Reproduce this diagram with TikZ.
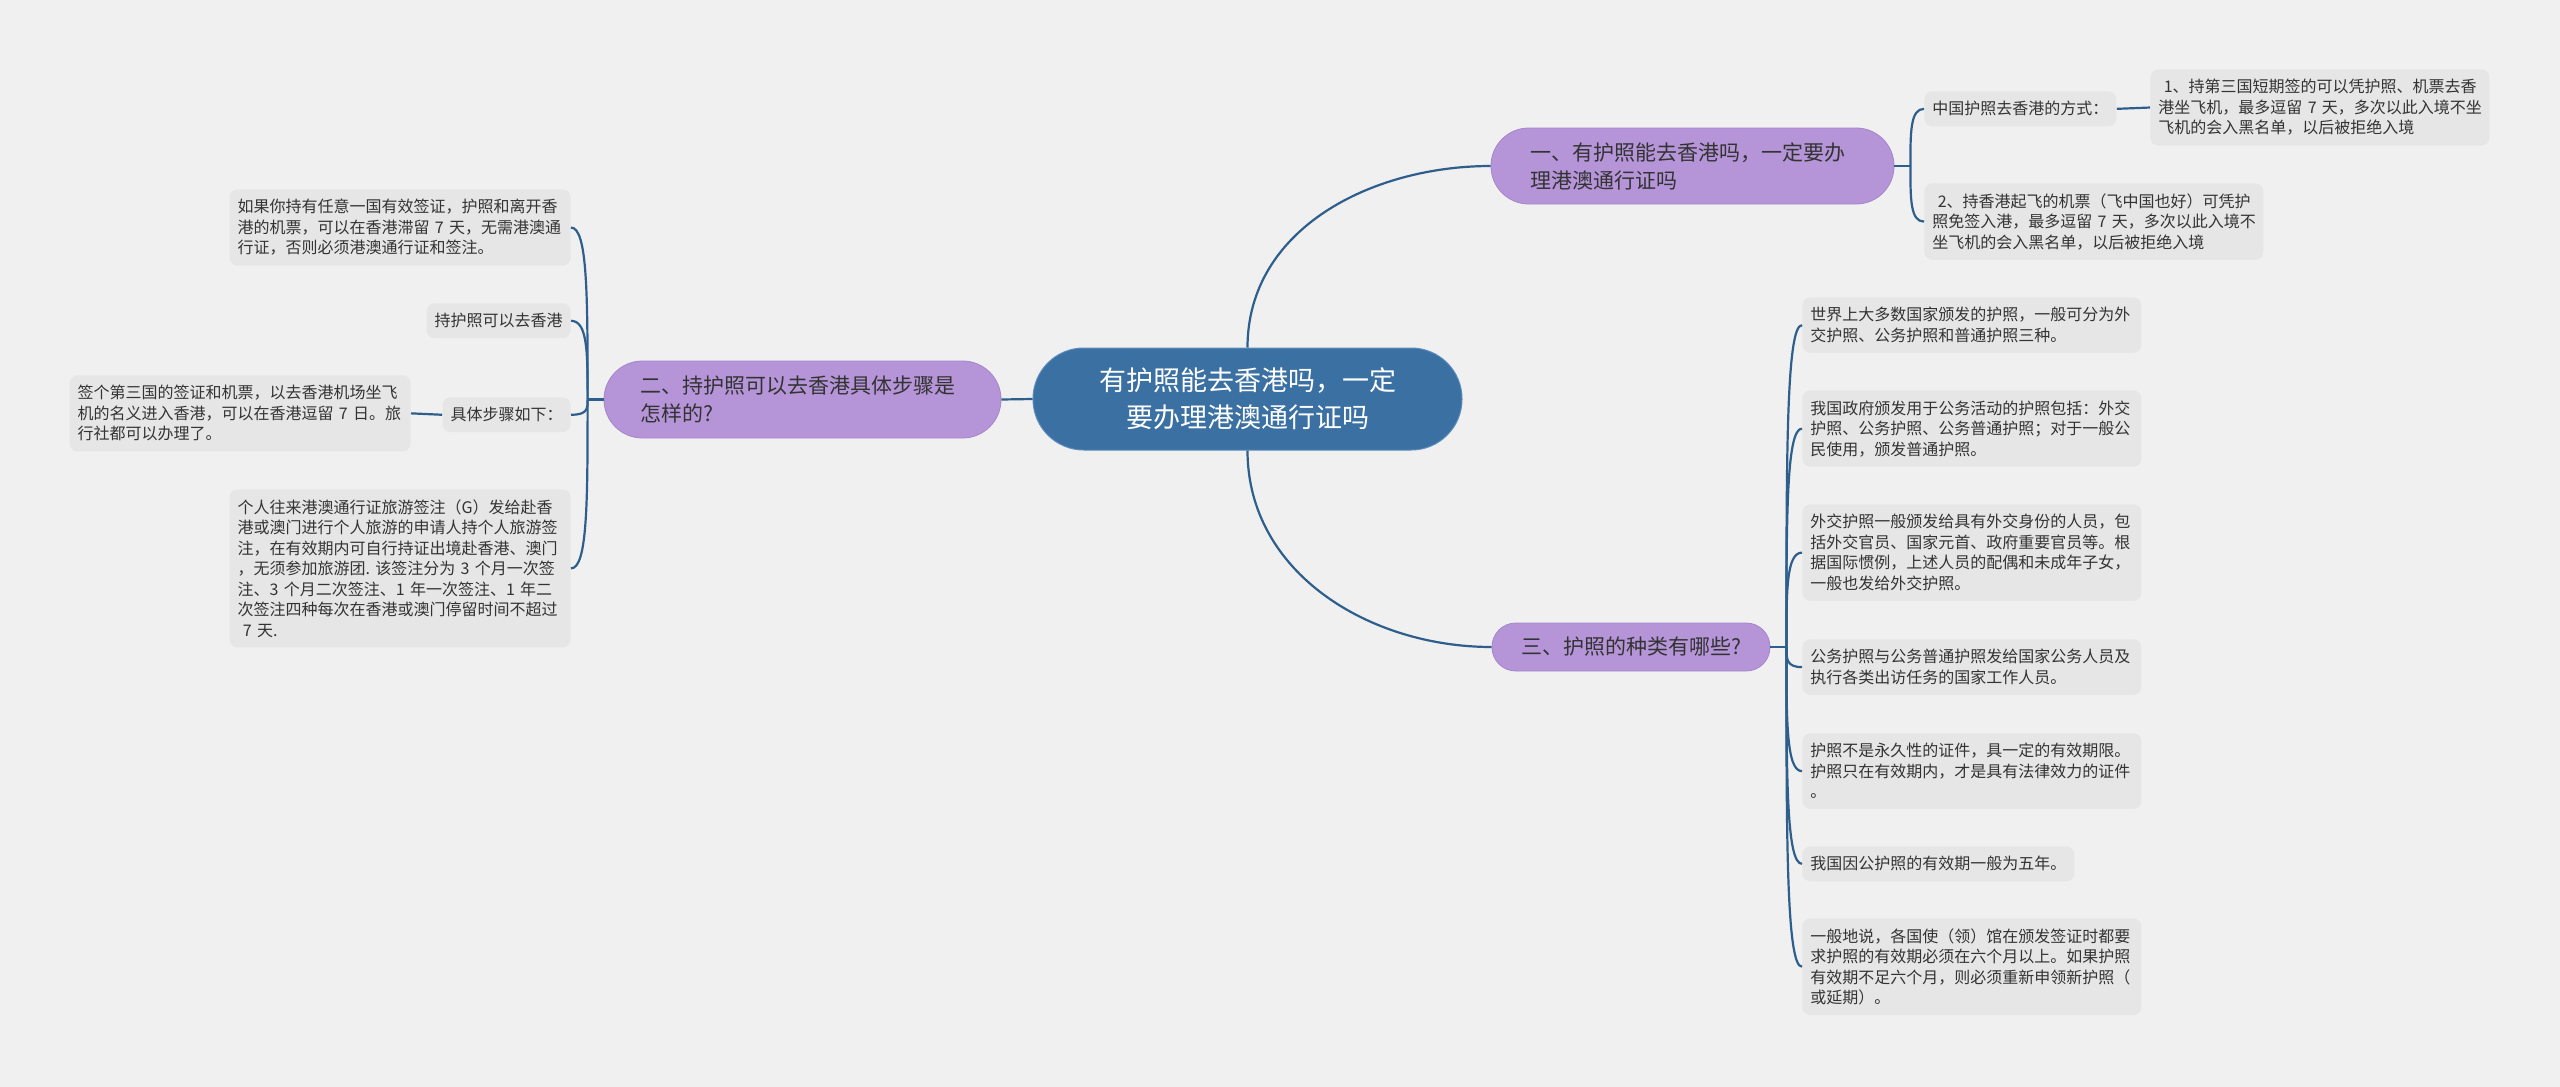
\documentclass[tikz,border=0pt]{standalone}
\usepackage{fontspec}
\setmainfont{Noto Sans CJK SC}
\usetikzlibrary{calc}
\definecolor{bgc}{HTML}{F0F0F0}
\definecolor{leafc}{HTML}{E6E6E6}
\definecolor{lnc}{HTML}{2E5F8C}
\definecolor{ctrc}{HTML}{3B70A3}
\definecolor{ctrb}{HTML}{5B8BBB}
\definecolor{brc}{HTML}{B595D8}
\definecolor{brb}{HTML}{A585CB}
\definecolor{txtc}{HTML}{333333}
\newcommand\brk[2]{\draw[conn] (#1) .. controls ($(#1)!0.6!(#1|-#2)$) and (#1|-#2) .. (#2);}
\begin{document}
\begin{tikzpicture}[x=0.5pt,y=-0.5pt,
  conn/.style={draw=lnc,line width=1.1pt},
  leafbox/.style={fill=leafc,rounded corners=4pt,inner xsep=4pt,inner ysep=5pt,text=txtc,
    font=\fontsize{8pt}{10.25pt}\selectfont,align=left},
  rw/.style={text width=161.5pt},
  lw/.style={text width=162.5pt},
  brbox/.style={fill=brc,draw=brb,line width=0.4pt,inner sep=0pt,text=txtc,
    font=\fontsize{10.5pt}{14pt}\selectfont,align=left},
  ctrbox/.style={fill=ctrc,draw=ctrb,line width=0.5pt,inner sep=0pt,text=white,
    font=\fontsize{13.5pt}{18.5pt}\selectfont,align=center,minimum width=214.5pt,
    minimum height=51pt,rounded corners=25.4pt}
]
\fill[bgc] (0,0) rectangle (2560,1087);
\useasboundingbox (0,0) rectangle (2560,1087);

% centre
\node[ctrbox] (ctr) at (1247.5,399) {有护照能去香港吗，一定\\要办理港澳通行证吗};

% branches
\node[brbox,minimum width=201.5pt,minimum height=38pt,text width=162.5pt,rounded corners=18.9pt] (b1) at (1692.5,166)
  {一、有护照能去香港吗，一定要办\\理港澳通行证吗};
\node[brbox,minimum width=198.5pt,minimum height=38.5pt,text width=162.5pt,rounded corners=19.2pt] (b2) at (802.5,399.5)
  {二、持护照可以去香港具体步骤是\\怎样的?};
\node[brbox,minimum width=139pt,minimum height=24pt,align=center,rounded corners=11.9pt] (b3) at (1631,647)
  {三、护照的种类有哪些?};

% branch 1 children
\node[leafbox,anchor=north west] (g0) at (1924,91) {中国护照去香港的方式：};
\node[leafbox,rw,anchor=north west] (g1) at (2150,69)
  {~1、持第三国短期签的可以凭护照、机票去香\\港坐飞机，最多逗留~7~天，多次以此入境不坐\\飞机的会入黑名单，以后被拒绝入境};
\node[leafbox,rw,anchor=north west] (g2) at (1924,183)
  {~2、持香港起飞的机票（飞中国也好）可凭护\\照免签入港，最多逗留~7~天，多次以此入境不\\坐飞机的会入黑名单，以后被拒绝入境};

% branch 2 children
\node[leafbox,lw,anchor=north east] (l1) at (571,189)
  {如果你持有任意一国有效签证，护照和离开香\\港的机票，可以在香港滞留~7~天，无需港澳通\\行证，否则必须港澳通行证和签注。};
\node[leafbox,anchor=north east] (l2) at (571,303) {持护照可以去香港};
\node[leafbox,anchor=north east] (l3) at (571,397) {具体步骤如下：};
\node[leafbox,lw,anchor=north east] (l3a) at (411,375)
  {签个第三国的签证和机票，以去香港机场坐飞\\机的名义进入香港，可以在香港逗留~7~日。旅\\行社都可以办理了。};
\node[leafbox,lw,anchor=north east] (l4) at (571,489)
  {个人往来港澳通行证旅游签注（G）发给赴香\\港或澳门进行个人旅游的申请人持个人旅游签\\注，在有效期内可自行持证出境赴香港、澳门\\，无须参加旅游团.~该签注分为~3~个月一次签\\注、3~个月二次签注、1~年一次签注、1~年二\\次签注四种每次在香港或澳门停留时间不超过\\~7~天.};

% branch 3 children
\node[leafbox,rw,anchor=north west] (c1) at (1802,297)
  {世界上大多数国家颁发的护照，一般可分为外\\交护照、公务护照和普通护照三种。};
\node[leafbox,rw,anchor=north west] (c2) at (1802,390)
  {我国政府颁发用于公务活动的护照包括：外交\\护照、公务护照、公务普通护照；对于一般公\\民使用，颁发普通护照。};
\node[leafbox,rw,anchor=north west] (c3) at (1802,504)
  {外交护照一般颁发给具有外交身份的人员，包\\括外交官员、国家元首、政府重要官员等。根\\据国际惯例，上述人员的配偶和未成年子女，\\一般也发给外交护照。};
\node[leafbox,rw,anchor=north west] (c4) at (1802,639)
  {公务护照与公务普通护照发给国家公务人员及\\执行各类出访任务的国家工作人员。};
\node[leafbox,rw,anchor=north west] (c5) at (1802,733)
  {护照不是永久性的证件，具一定的有效期限。\\护照只在有效期内，才是具有法律效力的证件\\。};
\node[leafbox,anchor=north west] (c6) at (1802,846)
  {我国因公护照的有效期一般为五年。};
\node[leafbox,rw,anchor=north west] (c7) at (1802,918)
  {一般地说，各国使（领）馆在颁发签证时都要\\求护照的有效期必须在六个月以上。如果护照\\有效期不足六个月，则必须重新申领新护照（\\或延期）。};

% centre connectors
\draw[conn] (ctr.north) to[out=90,in=180] (b1.west);
\draw[conn] (ctr.south) to[out=-90,in=180] (b3.west);
\draw[conn] (ctr.west) -- (b2.east);

% junctions
\coordinate (j1) at ($(b1.east)+(16,0)$);
\coordinate (j2) at ($(b2.west)+(-16,0)$);
\coordinate (j3) at ($(b3.east)+(16,0)$);
\draw[conn] (b1.east) -- (j1);
\draw[conn] (b2.west) -- (j2);
\draw[conn] (b3.east) -- (j3);

\brk{j1}{g0.west}
\brk{j1}{g2.west}
\draw[conn] (g0.east) -- (g1.west);

\brk{j2}{l1.east}
\brk{j2}{l2.east}
\brk{j2}{l3.east}
\brk{j2}{l4.east}
\draw[conn] (l3.west) -- (l3a.east);

\brk{j3}{c1.west}
\brk{j3}{c2.west}
\brk{j3}{c3.west}
\brk{j3}{c4.west}
\brk{j3}{c5.west}
\brk{j3}{c6.west}
\brk{j3}{c7.west}
\end{tikzpicture}
\end{document}
